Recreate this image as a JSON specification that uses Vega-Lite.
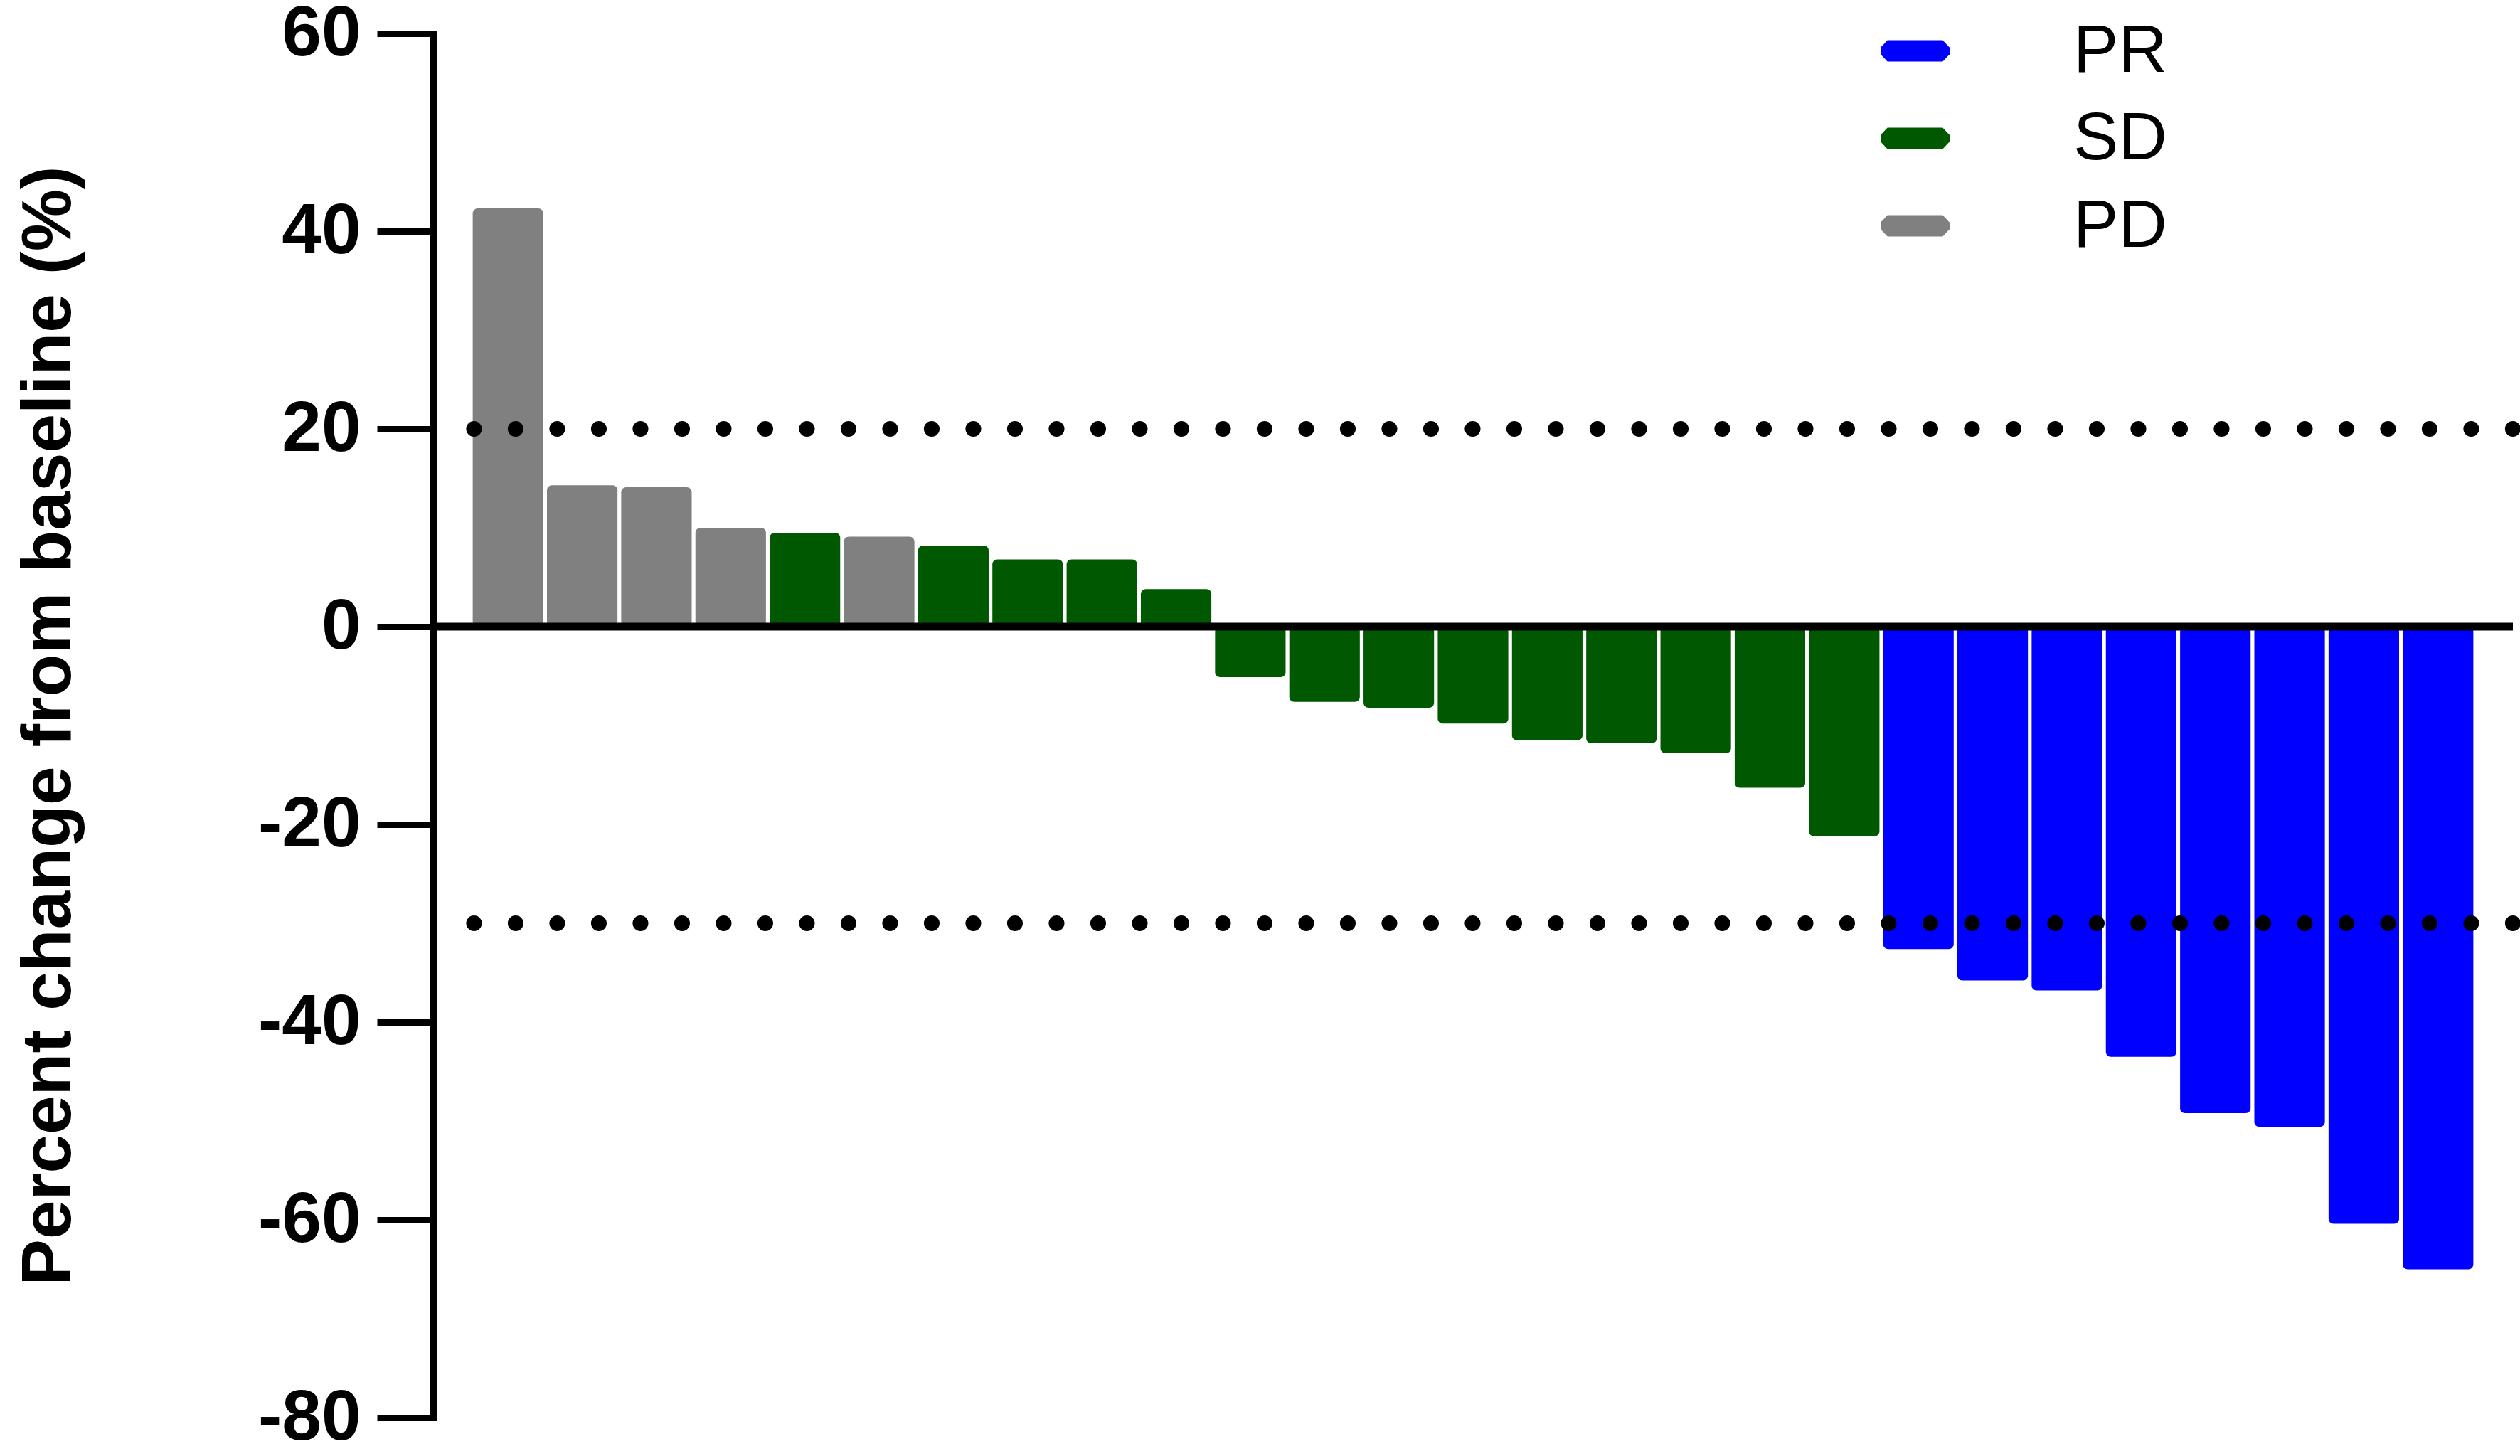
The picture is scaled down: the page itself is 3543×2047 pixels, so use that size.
{
  "$schema": "https://vega.github.io/schema/vega-lite/v6.json",
  "width": 2924,
  "height": 1946,
  "autosize": {"type": "none"},
  "padding": {"left": 609, "top": 47, "right": 10, "bottom": 54},
  "background": "white",
  "config": {"view": {"stroke": null}},
  "data": {"values": [
    {"id": 1, "value": 42.3, "group": "PD"},
    {"id": 2, "value": 14.3, "group": "PD"},
    {"id": 3, "value": 14.1, "group": "PD"},
    {"id": 4, "value": 10.0, "group": "PD"},
    {"id": 5, "value": 9.5, "group": "SD"},
    {"id": 6, "value": 9.1, "group": "PD"},
    {"id": 7, "value": 8.2, "group": "SD"},
    {"id": 8, "value": 6.8, "group": "SD"},
    {"id": 9, "value": 6.8, "group": "SD"},
    {"id": 10, "value": 3.8, "group": "SD"},
    {"id": 11, "value": -5.1, "group": "SD"},
    {"id": 12, "value": -7.6, "group": "SD"},
    {"id": 13, "value": -8.2, "group": "SD"},
    {"id": 14, "value": -9.8, "group": "SD"},
    {"id": 15, "value": -11.5, "group": "SD"},
    {"id": 16, "value": -11.8, "group": "SD"},
    {"id": 17, "value": -12.8, "group": "SD"},
    {"id": 18, "value": -16.3, "group": "SD"},
    {"id": 19, "value": -21.2, "group": "SD"},
    {"id": 20, "value": -32.6, "group": "PR"},
    {"id": 21, "value": -35.8, "group": "PR"},
    {"id": 22, "value": -36.8, "group": "PR"},
    {"id": 23, "value": -43.5, "group": "PR"},
    {"id": 24, "value": -49.2, "group": "PR"},
    {"id": 25, "value": -50.6, "group": "PR"},
    {"id": 26, "value": -60.4, "group": "PR"},
    {"id": 27, "value": -65.0, "group": "PR"}
  ]},
  "layer": [
    {
      "mark": {"type": "bar", "cornerRadius": 7},
      "encoding": {
        "x": {"field": "id", "type": "ordinal", "sort": null,
              "scale": {"paddingInner": 0.05, "paddingOuter": 0.533}, "axis": null},
        "y": {"field": "value", "type": "quantitative",
              "scale": {"domain": [-80, 60], "nice": false, "zero": false},
              "axis": {
                "values": [-80, -60, -40, -20, 0, 20, 40, 60],
                "labelExpr": "'' + datum.value",
                "title": "Percent change from baseline (%)",
                "titleFont": "Liberation Sans", "titleFontSize": 98, "titleFontWeight": "bold",
                "titleColor": "black", "titlePadding": 290,
                "labelFont": "Liberation Sans", "labelFontSize": 100, "labelFontWeight": "bold",
                "labelColor": "black", "labelPadding": 23,
                "tickSize": 79, "tickWidth": 9, "tickColor": "black",
                "domainWidth": 9, "domainColor": "black", "domainCap": "square",
                "grid": false
              }},
        "y2": {"datum": 0},
        "color": {"field": "group", "type": "nominal",
                  "scale": {"domain": ["PR", "SD", "PD"], "range": ["#0000FF", "#005800", "#808080"]},
                  "legend": {
                    "title": null, "orient": "none", "legendX": 2035, "legendY": -24,
                    "padding": 0,
                    "symbolType": "M-0.8,-0.31L0.8,-0.31L1,-0.1L1,0.1L0.8,0.31L-0.8,0.31L-1,0.1L-1,-0.1Z",
                    "symbolSize": 9409, "symbolStrokeWidth": 0, "symbolOpacity": 1,
                    "labelFont": "Liberation Sans", "labelFontSize": 95, "labelColor": "black",
                    "labelOffset": 174, "rowPadding": 26
                  }}
      }
    },
    {
      "data": {"values": [{"level": 20}, {"level": -30}]},
      "mark": {"type": "rule", "color": "black", "strokeWidth": 22, "strokeCap": "round", "strokeDash": [0.1, 58.4]},
      "encoding": {"y": {"field": "level", "type": "quantitative"}}
    },
    {
      "data": {"values": [{"level": 0}]},
      "mark": {"type": "rule", "color": "black", "strokeWidth": 11},
      "encoding": {"y": {"field": "level", "type": "quantitative"}}
    }
  ]
}
